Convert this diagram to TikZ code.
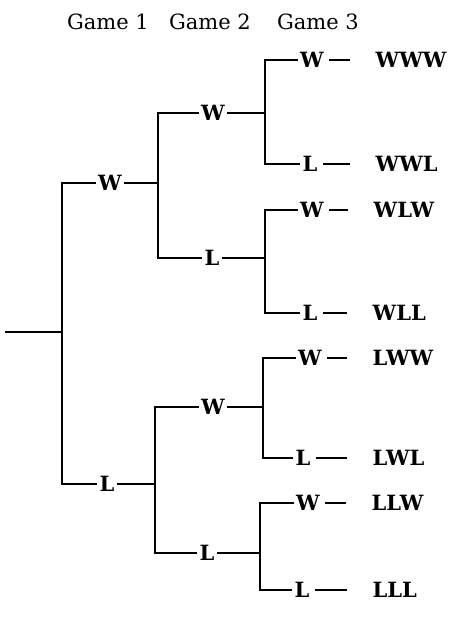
\documentclass[tikz,border=0pt]{standalone}
\usepackage{fontspec}
\setmainfont{DejaVu Serif}
\begin{document}
\begin{tikzpicture}[x=1pt,y=-1pt,line width=1.4pt,
  lab/.style={font=\bfseries\fontsize{21}{21}\selectfont,inner sep=2pt},
  leaf/.style={font=\bfseries\fontsize{21}{21}\selectfont,anchor=west,inner sep=0pt},
  hdr/.style={font=\fontsize{21}{21}\selectfont,inner sep=0pt},
  dashl/.style={shorten <=3pt,shorten >=25pt}]
\useasboundingbox (0,0) rectangle (453,618);
% header
\node[hdr] (g1) at (108,22) {Game 1};
\node[hdr] (g2) at (210,22) {Game 2};
\node[hdr] (g3) at (318,22) {Game 3};
% root
\coordinate (s) at (5,332);
\coordinate (j0) at (62,332);
\draw (s) -- (j0);
% game 1
\node[lab] (w) at (110,183) {W};
\node[lab] (l) at (107,484) {L};
\draw (j0) |- (w);
\draw (j0) |- (l);
\coordinate (jw) at (158,183);
\coordinate (jl) at (155,484);
\draw (w) -- (jw);
\draw (l) -- (jl);
% game 2
\node[lab] (ww) at (213,113) {W};
\node[lab] (wl) at (212,258) {L};
\node[lab] (lw) at (213,407) {W};
\node[lab] (ll) at (207,553) {L};
\draw (jw) |- (ww);
\draw (jw) |- (wl);
\draw (jl) |- (lw);
\draw (jl) |- (ll);
\coordinate (jww) at (265,113);
\coordinate (jwl) at (265,258);
\coordinate (jlw) at (263,407);
\coordinate (jll) at (260,553);
\draw (ww) -- (jww);
\draw (wl) -- (jwl);
\draw (lw) -- (jlw);
\draw (ll) -- (jll);
% game 3
\node[lab] (www) at (312,60) {W};
\node[lab] (wwl) at (310,164) {L};
\node[lab] (wlw) at (312,210) {W};
\node[lab] (wll) at (310,313) {L};
\node[lab] (lww) at (310,358) {W};
\node[lab] (lwl) at (303,458) {L};
\node[lab] (llw) at (308,503) {W};
\node[lab] (lll) at (302,590) {L};
\draw (jww) |- (www);
\draw (jww) |- (wwl);
\draw (jwl) |- (wlw);
\draw (jwl) |- (wll);
\draw (jlw) |- (lww);
\draw (jlw) |- (lwl);
\draw (jll) |- (llw);
\draw (jll) |- (lll);
% outcomes
\node[leaf] (o1) at (375,60) {WWW};
\node[leaf] (o2) at (375,164) {WWL};
\node[leaf] (o3) at (373,210) {WLW};
\node[leaf] (o4) at (372,313) {WLL};
\node[leaf] (o5) at (372,358) {LWW};
\node[leaf] (o6) at (372,458) {LWL};
\node[leaf] (o7) at (371,503) {LLW};
\node[leaf] (o8) at (372,590) {LLL};
\draw[dashl] (www) -- (o1);
\draw[dashl] (wwl) -- (o2);
\draw[dashl] (wlw) -- (o3);
\draw[dashl] (wll) -- (o4);
\draw[dashl] (lww) -- (o5);
\draw[dashl] (lwl) -- (o6);
\draw[dashl] (llw) -- (o7);
\draw[dashl] (lll) -- (o8);
\end{tikzpicture}
\end{document}
